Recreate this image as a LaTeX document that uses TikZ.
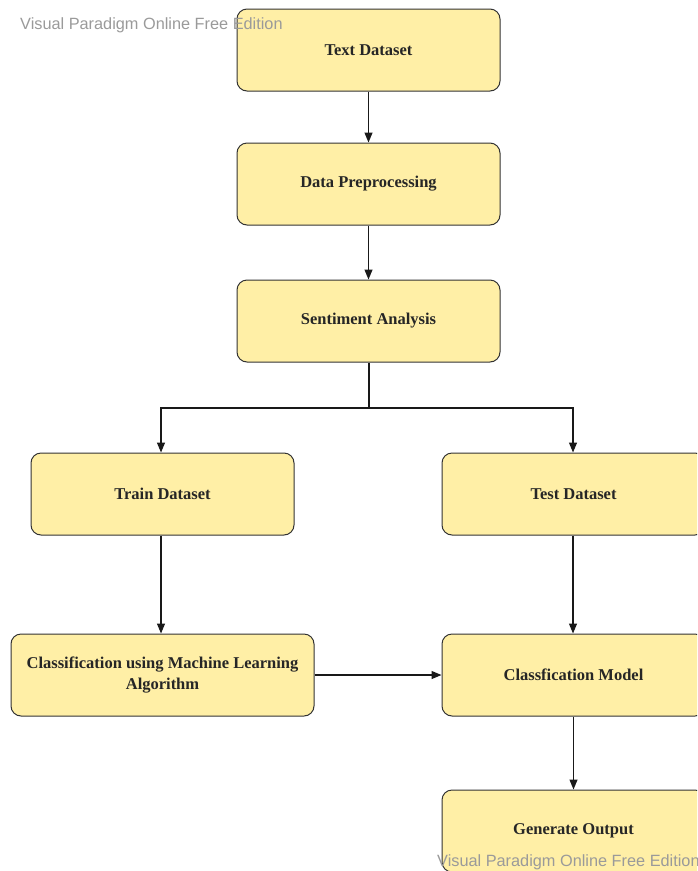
\documentclass[tikz,border=0pt]{standalone}
\usepackage{fontspec}
\setmainfont{Liberation Serif}
\newfontfamily\wmfont{Liberation Sans}
\usetikzlibrary{arrows.meta}
\definecolor{boxfill}{HTML}{FFEFA6}
\definecolor{boxline}{HTML}{333333}
\definecolor{wmgray}{HTML}{9A9A9A}
\tikzset{
  stepbox/.style={draw=boxline, line width=1pt, fill=boxfill, rounded corners=10pt,
    minimum width=263pt, minimum height=82pt, inner sep=0pt, align=center,
    font=\fontsize{16.5}{21}\selectfont\bfseries, text=black!85},
  conn/.style={draw=black!90, line width=1.2pt, -{Triangle[length=10pt,width=8pt]}},
  plain/.style={draw=black!90, line width=1.2pt},
  wm/.style={font=\wmfont\fontsize{16.3}{19}\selectfont, text=wmgray, inner sep=0pt, anchor=west}
}
\begin{document}
\begin{tikzpicture}[x=1pt,y=-1pt]
\useasboundingbox (0,0) rectangle (697,871);
\begin{scope}
\clip (0,0) rectangle (697,871);
\node[stepbox] (text) at (368.5,50) {Text Dataset};
\node[stepbox] (prep) at (368.5,184) {Data Preprocessing};
\node[stepbox] (sent) at (368.5,321) {Sentiment Analysis};
\node[stepbox] (train) at (162.5,494) {Train Dataset};
\node[stepbox] (test) at (573.5,494) {Test Dataset};
\node[stepbox, minimum width=303pt] (cml) at (162.5,675) {Classification using Machine Learning\\Algorithm};
\node[stepbox] (model) at (573.5,675) {Classfication Model};
\node[stepbox] (gen) at (573.5,831) {Generate Output};
\coordinate (split) at (369,408);
\draw[conn] (text) -- (prep);
\draw[conn] (prep) -- (sent);
\draw[plain] (sent.south -| split) -- (split);
\draw[conn] (split) -| (train.north -| 161,0);
\draw[conn] (split) -| (test.north -| 573,0);
\draw[conn] (train.south -| 161,0) -- (cml.north -| 161,0);
\draw[conn] (test.south -| 573,0) -- (model.north -| 573,0);
\draw[conn] (cml) -- (model);
\draw[conn] (model) -- (gen);
\node[wm] (wm1) at (20,25) {Visual Paradigm Online Free Edition};
\node[wm] (wm2) at (437,862) {Visual Paradigm Online Free Edition};
\end{scope}
\end{tikzpicture}
\end{document}
